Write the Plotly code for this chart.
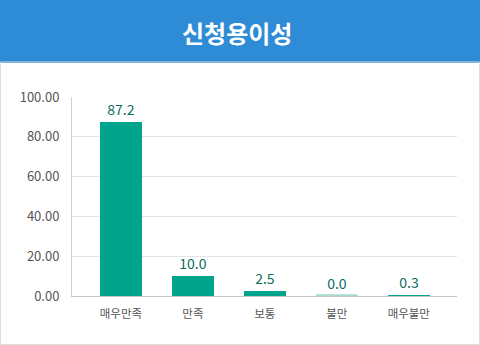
import plotly.graph_objects as go

# Survey response: ease of application
categories = ["매우만족", "만족", "보통", "불만", "매우불만"]
values = [87.2, 10.0, 2.5, 0.0, 0.3]
y_ticks = [0, 20, 40, 60, 80, 100]

BAR_COLOR = "#00a38b"
LABEL_COLOR = "#0c6d5c"
TICK_COLOR = "#555555"
HEADER_COLOR = "#2e8bd6"
FONT = "Noto Sans CJK KR"
BAR_WIDTH = 0.58

fig = go.Figure()
fig.add_trace(go.Bar(
    x=list(range(len(categories))),
    y=values,
    width=BAR_WIDTH,
    marker=dict(color=BAR_COLOR, line=dict(width=0)),
    text=[f"{v:.1f}" for v in values],
    textposition="outside",
    textfont=dict(family=FONT, size=14, color=LABEL_COLOR),
    cliponaxis=False,
    hoverinfo="skip",
))

# zero-valued bars are shown as a thin light strip on the baseline
for i, v in enumerate(values):
    if v == 0:
        fig.add_shape(type="line", xref="x", yref="y",
                      x0=i - BAR_WIDTH / 2, x1=i + BAR_WIDTH / 2, y0=0.4, y1=0.4,
                      line=dict(color="#a6dbd2", width=2), layer="above")

# header band and panel border
fig.add_shape(type="rect", xref="paper", yref="paper",
              x0=-72 / 385, x1=(480 - 72) / 385,
              y0=(345 - 49 - 63) / 199 * 1, y1=(345 - 49) / 199,
              fillcolor=HEADER_COLOR, line=dict(width=0), layer="below")
fig.add_shape(type="rect", xref="paper", yref="paper",
              x0=-71.5 / 385, x1=(479.5 - 72) / 385,
              y0=-48.5 / 199, y1=(345 - 49 - 62) / 199,
              fillcolor="rgba(0,0,0,0)", line=dict(color="#dddddd", width=1),
              layer="below")

fig.add_annotation(text="<b>신청용이성</b>", xref="paper", yref="paper",
                   x=(237 - 72) / 385, y=(296 - 32) / 199,
                   xanchor="center", yanchor="middle", showarrow=False,
                   font=dict(family=FONT, size=24, color="white"))

fig.update_layout(
    width=480, height=345,
    margin=dict(l=72, r=23, t=97, b=49),
    paper_bgcolor="white", plot_bgcolor="white",
    showlegend=False,
    bargap=0,
    font=dict(family=FONT),
)
fig.update_xaxes(
    range=[-0.68, 4.67],
    tickmode="array",
    tickvals=list(range(len(categories))),
    ticktext=categories,
    tickfont=dict(family=FONT, size=11.5, color=TICK_COLOR),
    ticks="outside", ticklen=7, tickcolor="rgba(0,0,0,0)",
    showgrid=False, zeroline=False,
    showline=True, linecolor="#c4c4c4", linewidth=1,
    fixedrange=True,
)
fig.update_yaxes(
    range=[0, 100],
    tickmode="array",
    tickvals=y_ticks,
    ticktext=[f"{t:.2f}" for t in y_ticks],
    tickfont=dict(family=FONT, size=13, color=TICK_COLOR),
    ticks="outside", ticklen=9, tickcolor="rgba(0,0,0,0)",
    showgrid=True, gridcolor="#e3e3e3", gridwidth=1,
    zeroline=False,
    showline=True, linecolor="#d0d0d0", linewidth=1,
    fixedrange=True,
)

fig.write_html("out.html", config={"displayModeBar": False})
